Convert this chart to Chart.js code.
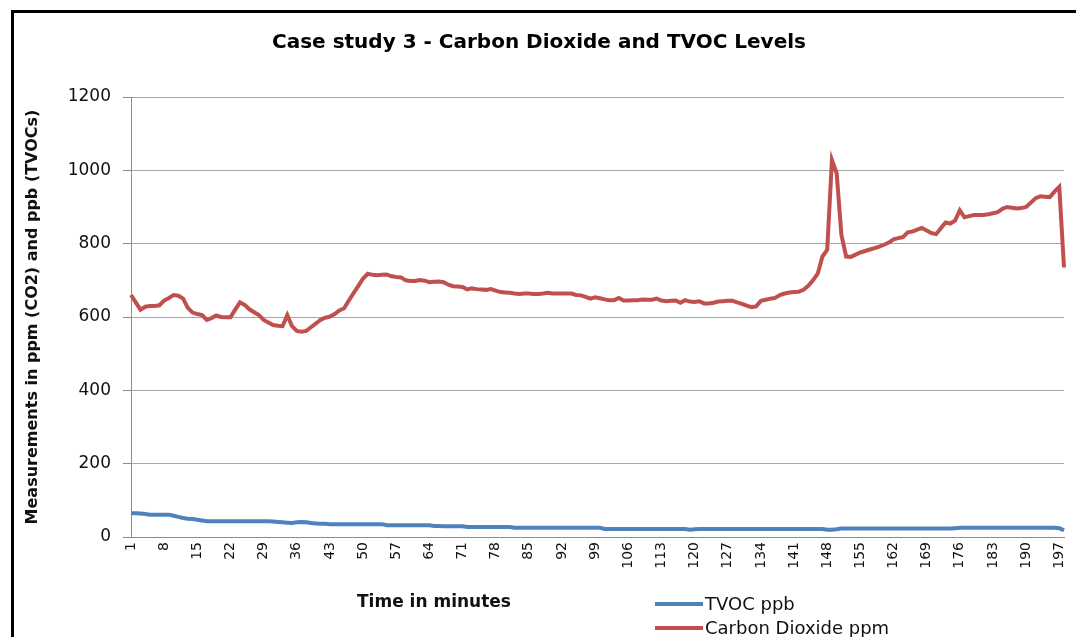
<!DOCTYPE html>
<html>
<head>
<meta charset="utf-8">
<script src="https://cdn.jsdelivr.net/npm/chart.js@4/dist/chart.umd.min.js"></script>
<style>
html,body{margin:0;padding:0;background:#fff;}
canvas{display:block;}
</style>
</head>
<body>
<canvas id="c" width="1076" height="637"></canvas>
<script>
const minutes = [
1,2,3,4,5,6,7,8,9,10,11,12,13,14,15,16,17,18,19,20,
21,22,23,24,25,26,27,28,29,30,31,32,33,34,35,36,37,38,39,40,
41,42,43,44,45,46,47,48,49,50,51,52,53,54,55,56,57,58,59,60,
61,62,63,64,65,66,67,68,69,70,71,72,73,74,75,76,77,78,79,80,
81,82,83,84,85,86,87,88,89,90,91,92,93,94,95,96,97,98,99,100,
101,102,103,104,105,106,107,108,109,110,111,112,113,114,115,116,117,118,119,120,
121,122,123,124,125,126,127,128,129,130,131,132,133,134,135,136,137,138,139,140,
141,142,143,144,145,146,147,148,149,150,151,152,153,154,155,156,157,158,159,160,
161,162,163,164,165,166,167,168,169,170,171,172,173,174,175,176,177,178,179,180,
181,182,183,184,185,186,187,188,189,190,191,192,193,194,195,196,197,198
];

const tickLabels = [1,8,15,22,29,36,43,50,57,64,71,78,85,92,99,106,113,120,127,134,141,148,155,162,169,176,183,190,197];

const tvocPpb = [
65,65,64,63,61,61,61,61,61,58,
55,52,50,49,47,45,43,43,43,43,
43,43,43,43,43,43,43,43,43,43,
42,41,40,39,38,40,41,40,38,37,
36,36,35,35,35,35,35,35,35,35,
35,35,35,35,32,32,32,32,32,32,
32,32,32,32,30,30,29,29,29,29,
29,27,27,27,27,27,27,27,27,27,
27,25,25,25,25,25,25,25,25,25,
25,25,25,25,25,25,25,25,25,25,
22,22,22,22,22,22,22,22,22,22,
22,22,22,22,22,22,22,22,20,21,
22,22,22,22,22,22,22,22,22,22,
22,22,22,22,22,22,22,22,22,22,
22,22,22,22,22,22,22,20,20,21,
23,23,23,23,23,23,23,23,23,23,
23,23,23,23,23,23,23,23,23,23,
23,23,23,23,24,25,25,25,25,25,
25,25,25,25,25,25,25,25,25,25,
25,25,25,25,25,25,24,18
];

const co2Ppm = [
660,640,620,628,630,630,632,645,652,660,
658,650,625,612,608,605,592,597,604,600,
599,599,620,640,633,621,613,605,592,585,
578,576,575,605,575,562,560,562,572,582,
592,598,601,608,618,624,645,665,685,705,
718,715,714,715,716,711,709,708,700,698,
698,701,699,695,696,697,695,688,684,683,
682,675,678,676,675,674,676,672,668,667,
666,664,663,664,664,663,663,664,666,664,
664,664,664,664,660,659,655,650,654,651,
648,646,646,652,645,645,646,646,648,647,
647,650,645,643,644,645,639,646,642,641,
643,637,637,639,642,643,644,644,640,636,
631,627,629,644,647,650,652,660,664,667,
668,669,674,685,700,718,765,783,1028,992,
824,765,764,770,776,780,784,788,792,797,
803,812,815,818,831,833,838,843,836,829,
826,842,858,855,863,891,872,875,878,878,
878,880,883,886,895,900,898,896,897,900,
912,924,929,928,927,942,955,735
];

const FONT = "'DejaVu Sans', sans-serif";
const BLUE = '#4F81BD';
const RED = '#C0504D';

const extras = {
  id: 'extras',
  afterDraw(chart) {
    const ctx = chart.ctx;
    ctx.save();
    ctx.fillStyle = '#000';
    ctx.fillRect(11, 10, 1065, 3);
    ctx.fillRect(11, 10, 3, 627);
    ctx.fillStyle = '#111';
    ctx.font = "bold 17px " + FONT;
    ctx.textAlign = 'center';
    ctx.textBaseline = 'middle';
    ctx.fillText('Time in minutes', 434, 603);
    const items = chart.data.datasets;
    ctx.font = "18px " + FONT;
    ctx.textAlign = 'left';
    items.forEach((ds, i) => {
      const y = 604 + i * 24;
      ctx.strokeStyle = ds.borderColor;
      ctx.lineWidth = 4;
      ctx.beginPath();
      ctx.moveTo(655, y);
      ctx.lineTo(703, y);
      ctx.stroke();
      ctx.fillStyle = '#111';
      ctx.fillText(ds.label, 705, y + 1);
    });
    ctx.restore();
  }
};

new Chart(document.getElementById('c'), {
  type: 'line',
  data: {
    labels: minutes,
    datasets: [
      { label: 'TVOC ppb', data: tvocPpb, borderColor: BLUE, backgroundColor: BLUE, borderWidth: 4, pointRadius: 0, tension: 0 },
      { label: 'Carbon Dioxide ppm', data: co2Ppm, borderColor: RED, backgroundColor: RED, borderWidth: 4, pointRadius: 0, tension: 0 }
    ]
  },
  options: {
    responsive: false,
    devicePixelRatio: 1,
    animation: false,
    layout: { padding: { left: 14, right: 12, top: 0, bottom: 0 } },
    plugins: {
      legend: { display: false },
      tooltip: { enabled: false },
      title: {
        display: true,
        text: 'Case study 3 - Carbon Dioxide and TVOC Levels',
        color: '#000',
        font: { family: FONT, size: 20, weight: 'bold' },
        padding: { top: 31, bottom: 42 }
      }
    },
    scales: {
      x: {
        type: 'category',
        offset: false,
        grid: { display: false, drawTicks: false },
        border: { display: true, color: '#8c8c8c', width: 1 },
        ticks: {
          autoSkip: false,
          maxRotation: 90,
          minRotation: 90,
          padding: 5,
          color: '#111',
          font: { family: FONT, size: 14 },
          callback: function (v) {
            const l = this.getLabelForValue(v);
            return tickLabels.includes(l) ? String(l) : '';
          }
        },
        afterFit(scale) { scale.height = 100; scale.paddingRight = 0; scale.paddingLeft = 0; }
      },
      y: {
        min: 0,
        max: 1200,
        ticks: { stepSize: 200, padding: 12, color: '#111', font: { family: FONT, size: 17 },
          callback: (v) => String(v) },
        grid: { color: '#a6a6a6', lineWidth: 1, tickLength: 8, tickColor: '#8c8c8c' },
        border: { display: true, color: '#8c8c8c', width: 1 },
        title: {
          display: true,
          text: 'Measurements in ppm (CO2) and ppb (TVOCs)',
          color: '#111',
          font: { family: FONT, size: 16, weight: 'bold' },
          padding: { top: 9, bottom: 0 }
        },
        afterFit(scale) { scale.width = 117; }
      }
    }
  },
  plugins: [extras]
});
</script>
</body>
</html>
